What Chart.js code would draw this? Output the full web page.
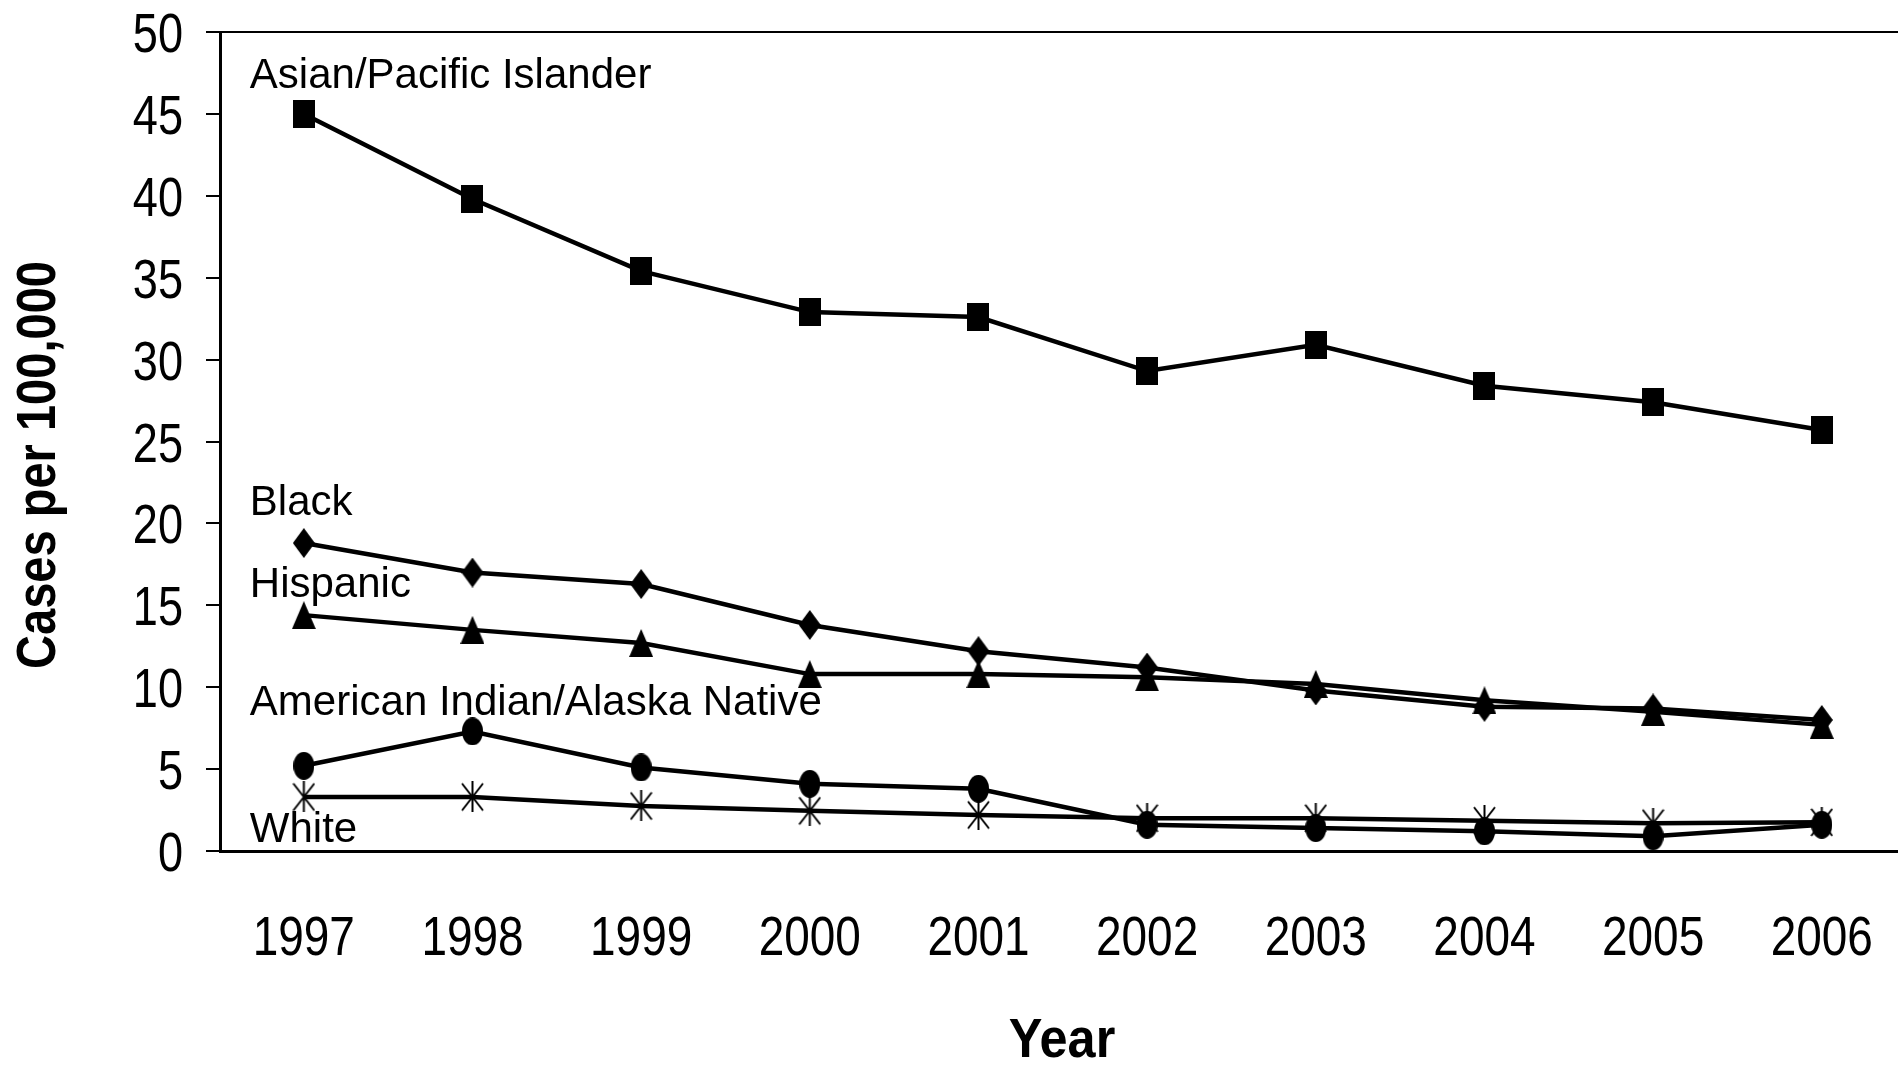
<!DOCTYPE html>
<html>
<head>
<meta charset="utf-8">
<script src="https://cdn.jsdelivr.net/npm/chart.js@4.4.1/dist/chart.umd.min.js"></script>
<style>
  html, body { margin: 0; padding: 0; background: #fff; }
  #wrap { width: 1898px; height: 1069px; position: relative; }
</style>
</head>
<body>
<div id="wrap"><canvas id="rates"></canvas></div>
<script>
const years = [1997, 1998, 1999, 2000, 2001, 2002, 2003, 2004, 2005, 2006];
const asian = [45.0, 39.8, 35.4, 32.9, 32.6, 29.3, 30.9, 28.4, 27.4, 25.7];
const black = [18.8, 17.0, 16.3, 13.8, 12.2, 11.2, 9.8, 8.8, 8.7, 8.0];
const hispanic = [14.4, 13.5, 12.7, 10.8, 10.8, 10.6, 10.2, 9.2, 8.5, 7.7];
const aian = [5.2, 7.3, 5.1, 4.1, 3.8, 1.6, 1.4, 1.2, 0.9, 1.6];
const white = [3.3, 3.3, 2.75, 2.45, 2.2, 2.0, 2.0, 1.85, 1.7, 1.75];
const yTicks = [0, 5, 10, 15, 20, 25, 30, 35, 40, 45, 50];
const xTitle = "Year";
const yTitle = "Cases per 100,000";

// group names written inside the plot, anchored in data units
const groupNames = [
  { text: "Asian/Pacific Islander", x: 1996.68, y: 46.6 },
  { text: "Black", x: 1996.68, y: 20.5 },
  { text: "Hispanic", x: 1996.68, y: 15.5 },
  { text: "American Indian/Alaska Native", x: 1996.68, y: 8.3 },
  { text: "White", x: 1996.68, y: 0.55 }
];

const sans = "'Liberation Sans', Arial, sans-serif";

// marker glyphs, a bit taller than wide like the original
function marker(w, h, draw) {
  const c = document.createElement("canvas");
  c.width = w; c.height = h;
  const g = c.getContext("2d");
  g.fillStyle = "#000"; g.strokeStyle = "#000";
  draw(g, w, h);
  return c;
}
const squareMk = marker(22, 28, (g, w, h) => g.fillRect(0, 0, w, h));
const diamondMk = marker(22, 30, (g, w, h) => {
  g.beginPath(); g.moveTo(w / 2, 0); g.lineTo(w, h / 2); g.lineTo(w / 2, h); g.lineTo(0, h / 2);
  g.closePath(); g.fill();
});
const triangleMk = marker(24, 28, (g, w, h) => {
  g.beginPath(); g.moveTo(w / 2, 0); g.lineTo(w, h); g.lineTo(0, h); g.closePath(); g.fill();
});
const circleMk = marker(21, 28, (g, w, h) => {
  g.beginPath(); g.ellipse(w / 2, h / 2, w / 2, h / 2, 0, 0, Math.PI * 2); g.fill();
});
const starMk = marker(23, 31, (g, w, h) => {
  g.lineWidth = 2;
  g.beginPath();
  g.moveTo(w / 2, 0); g.lineTo(w / 2, h);
  g.moveTo(1, 2); g.lineTo(w - 1, h - 2);
  g.moveTo(w - 1, 2); g.lineTo(1, h - 2);
  g.stroke();
});

function series(label, values, mk) {
  return {
    label: label,
    data: years.map((yr, i) => ({ x: yr, y: values[i] })),
    borderColor: "#000",
    borderWidth: 4.5,
    pointStyle: mk,
    pointRadius: 12,
    pointHoverRadius: 12,
    tension: 0,
    fill: false
  };
}

// condensed text: no narrow font installed, so squeeze Liberation Sans
function squeezed(ctx, text, x, y, sx, font, align, angle) {
  ctx.save();
  ctx.translate(x, y);
  if (angle) ctx.rotate(angle);
  ctx.scale(sx, 1);
  ctx.font = font;
  ctx.textAlign = align;
  ctx.textBaseline = "alphabetic";
  ctx.fillText(text, 0, 0);
  ctx.restore();
}

const axisText = {
  id: "axisText",
  afterDraw(chart) {
    const { ctx, scales, chartArea } = chart;
    ctx.save();
    ctx.fillStyle = "#000";
    scales.x.ticks.forEach(t => {
      squeezed(ctx, String(t.value), scales.x.getPixelForValue(t.value), chartArea.bottom + 104,
        0.82, "56px " + sans, "center");
    });
    scales.y.ticks.forEach(t => {
      squeezed(ctx, String(t.value), chartArea.left - 37, scales.y.getPixelForValue(t.value) + 20,
        0.82, "55px " + sans, "right");
    });
    squeezed(ctx, xTitle, 1062, 1057, 0.9, "bold 56px " + sans, "center");
    squeezed(ctx, yTitle, 55, 465, 0.84, "bold 56px " + sans, "center", -Math.PI / 2);
    ctx.restore();
  }
};

const groupLabels = {
  id: "groupLabels",
  afterDatasetsDraw(chart) {
    const { ctx, scales } = chart;
    ctx.save();
    ctx.fillStyle = "#000";
    ctx.font = "42px " + sans;
    ctx.textBaseline = "alphabetic";
    ctx.textAlign = "left";
    groupNames.forEach(g => {
      ctx.fillText(g.text, scales.x.getPixelForValue(g.x), scales.y.getPixelForValue(g.y));
    });
    ctx.restore();
  }
};

new Chart(document.getElementById("rates"), {
  type: "line",
  data: {
    datasets: [
      series("Asian/Pacific Islander", asian, squareMk),
      series("Black", black, diamondMk),
      series("Hispanic", hispanic, triangleMk),
      series("American Indian/Alaska Native", aian, circleMk),
      series("White", white, starMk)
    ]
  },
  options: {
    responsive: true,
    maintainAspectRatio: false,
    animation: false,
    events: [],
    layout: { autoPadding: false, padding: { top: 32, right: 0, left: 0, bottom: 0 } },
    plugins: { legend: { display: false }, tooltip: { enabled: false } },
    scales: {
      x: {
        type: "linear",
        min: 1996.503,
        max: 2006.452,
        afterBuildTicks: axis => { axis.ticks = years.map(v => ({ value: v })); },
        afterFit: axis => { axis.height = 218; axis.paddingLeft = 0; axis.paddingRight = 0; },
        grid: { display: false },
        border: { display: true, color: "#000", width: 3 },
        ticks: { display: false }
      },
      y: {
        min: 0,
        max: 50,
        afterBuildTicks: axis => { axis.ticks = yTicks.map(v => ({ value: v })); },
        afterFit: axis => { axis.width = 220; axis.paddingTop = 0; axis.paddingBottom = 0; },
        grid: {
          color: c => (c.tick && c.tick.value === 50 ? "#000" : "rgba(0,0,0,0)"),
          lineWidth: 2,
          tickColor: "#000",
          tickWidth: 2,
          tickLength: 14
        },
        border: { display: true, color: "#000", width: 3 },
        ticks: { display: false }
      }
    }
  },
  plugins: [groupLabels, axisText]
});
</script>
</body>
</html>
